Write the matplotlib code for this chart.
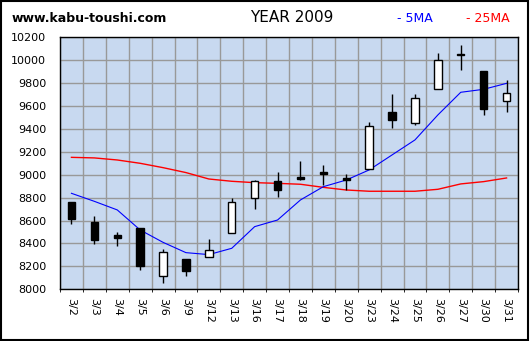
import matplotlib
matplotlib.use("Agg")
import matplotlib.pyplot as plt
from matplotlib.patches import Rectangle
import numpy as np

dates = ["3/2", "3/3", "3/4", "3/5", "3/6", "3/9", "3/12", "3/13", "3/16", "3/17",
         "3/18", "3/19", "3/20", "3/23", "3/24", "3/25", "3/26", "3/27", "3/30", "3/31"]
opens = [8762, 8588, 8474, 8535, 8113, 8265, 8279, 8489, 8800, 8943,
         8981, 9021, 8969, 9048, 9548, 9449, 9746, 10054, 9906, 9641]
highs = [8762, 8640, 8500, 8535, 8349, 8265, 8439, 8800, 8952, 9024,
         9120, 9085, 9007, 9461, 9705, 9705, 10063, 10133, 9906, 9827]
lows = [8573, 8399, 8378, 8172, 8052, 8119, 8279, 8489, 8704, 8809,
        8954, 8908, 8867, 9048, 9411, 9438, 9746, 9918, 9525, 9551]
closes = [8617, 8431, 8451, 8204, 8323, 8163, 8340, 8760, 8943, 8870,
          8966, 9010, 8957, 9423, 9481, 9667, 9999, 10043, 9577, 9714]
ma5 = [8838, 8768, 8693, 8518, 8410, 8320, 8303, 8358, 8547, 8605,
       8780, 8896, 8954, 9042, 9173, 9304, 9522, 9720, 9746, 9798]
ma25 = [9152, 9147, 9129, 9100, 9062, 9019, 8963, 8943, 8931, 8925,
        8917, 8890, 8867, 8856, 8856, 8856, 8873, 8920, 8940, 8972]

fig = plt.figure(figsize=(5.30, 3.41), dpi=100)
fig.patch.set_facecolor("white")

# outer frame
fig.add_artist(Rectangle((0.002, 0.003), 0.995, 0.994, transform=fig.transFigure,
                         fill=False, edgecolor="black", linewidth=1.5))

ax = fig.add_axes([60 / 530, 1 - 289.3 / 341, 458 / 530, 252 / 341])
ax.set_facecolor("#c8d9f0")

x = np.arange(len(dates))
ax.set_xlim(-0.5, len(dates) - 0.5)
ax.set_ylim(8000, 10200)
ax.set_yticks(np.arange(8000, 10201, 200))
ax.set_xticks(x)
ax.set_xticks(np.arange(-0.5, len(dates), 1), minor=True)
ax.grid(True, which="minor", axis="x", color="#999999", linewidth=1)
ax.grid(True, which="major", axis="y", color="#999999", linewidth=1)
ax.set_axisbelow(True)

ax.plot(x, ma25, color="#ff0000", linewidth=1, zorder=2)
ax.plot(x, ma5, color="#0000ff", linewidth=0.8, zorder=2)

w = 0.32
for i in range(len(dates)):
    o, h, l, c = opens[i], highs[i], lows[i], closes[i]
    ax.vlines(i, l, h, color="black", linewidth=1, zorder=3)
    bottom = min(o, c)
    height = max(abs(c - o), 12)
    face = "white" if c > o else "black"
    ax.add_patch(Rectangle((i - w / 2, bottom), w, height, facecolor=face,
                           edgecolor="black", linewidth=1, zorder=4))

ax.set_xticklabels(dates, rotation=-90, fontsize=8, va="top")
ax.tick_params(axis="y", labelsize=8, length=0, pad=10)
ax.tick_params(axis="x", length=0, pad=6)
for s in ax.spines.values():
    s.set_linewidth(1)
    s.set_color("black")

fig.text(12 / 530, 1 - 18 / 341, "www.kabu-toushi.com", fontsize=9, fontweight="bold",
         va="center", ha="left")
fig.text(292 / 530, 1 - 18 / 341, "YEAR 2009", fontsize=11, va="center", ha="center")
fig.text(397 / 530, 1 - 18 / 341, "- 5MA", fontsize=9, color="#0000ff", va="center", ha="left")
fig.text(466 / 530, 1 - 18 / 341, "- 25MA", fontsize=9, color="#ff0000", va="center", ha="left")

fig.savefig("out.png", dpi=100)
